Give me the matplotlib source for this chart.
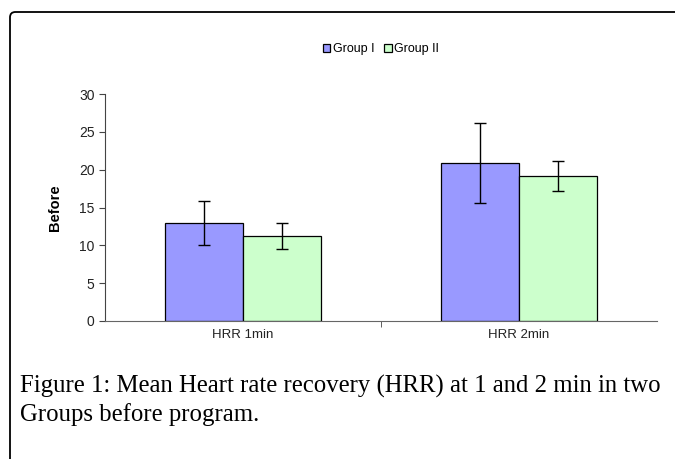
import matplotlib
matplotlib.use("Agg")
import matplotlib.pyplot as plt
from matplotlib.patches import FancyBboxPatch
import numpy as np

# Data
categories = ["HRR 1min", "HRR 2min"]
groups = ["Group I", "Group II"]
group1_mean = [12.9, 20.9]
group1_err = [2.9, 5.3]
group2_mean = [11.2, 19.2]
group2_err = [1.7, 2.0]
colors = ["#9999ff", "#ccffcc"]
caption = ("Figure 1: Mean Heart rate recovery (HRR) at 1 and 2 min in two\n"
           "Groups before program.")

plt.rcParams["font.family"] = ["Liberation Sans", "DejaVu Sans"]

fig = plt.figure(figsize=(6.75, 4.59), dpi=100)

# rounded frame around figure + caption
frame = FancyBboxPatch((10 / 675, -0.2), 1.2, 1.2 - 12 / 459 + 0.0,
                       boxstyle="round,pad=0,rounding_size=0.008",
                       mutation_aspect=675 / 459,
                       transform=fig.transFigure, fill=False,
                       edgecolor="black", linewidth=1.3, clip_on=False)
fig.patches.append(frame)

ax = fig.add_axes([105 / 675, 1 - 321 / 459, 552 / 675, 227 / 459])

x = np.arange(len(categories))
w = 0.283
ekw = dict(ecolor="black", elinewidth=1.0, capsize=4, capthick=1.0)
ax.bar(x - w / 2, group1_mean, w, yerr=group1_err, color=colors[0],
       edgecolor="black", linewidth=0.9, label=groups[0], error_kw=ekw)
ax.bar(x + w / 2, group2_mean, w, yerr=group2_err, color=colors[1],
       edgecolor="black", linewidth=0.9, label=groups[1], error_kw=ekw)

ax.set_xlim(-0.5, 1.5)
ax.set_ylim(0, 30)
ax.set_yticks(range(0, 31, 5))
ax.set_xticks(x)
ax.set_xticklabels(categories, fontsize=9.5, color="#222222")
ax.set_xticks([0.5], minor=True)
ax.tick_params(axis="x", which="major", length=0, pad=6)
ax.tick_params(axis="x", which="minor", length=4, color="#444444")
ax.tick_params(axis="y", labelsize=10, length=4, color="#444444", labelcolor="#222222")
for s in ["top", "right"]:
    ax.spines[s].set_visible(False)
ax.spines["left"].set_color("#444444")
ax.spines["bottom"].set_color("#666666")
ax.set_ylabel("Before", fontsize=10.5, fontweight="bold", labelpad=12)

fig.legend(loc="center", bbox_to_anchor=(381 / 675, 1 - 49 / 459), ncol=2,
           frameon=False, fontsize=9, handlelength=0.6, handleheight=0.6,
           handletextpad=0.2, columnspacing=0.8)

fig.text(20 / 675, 1 - 375 / 459, caption, family="Liberation Serif",
         fontsize=17.8, va="top", ha="left", linespacing=1.3)

fig.savefig("out.png", dpi=100)
